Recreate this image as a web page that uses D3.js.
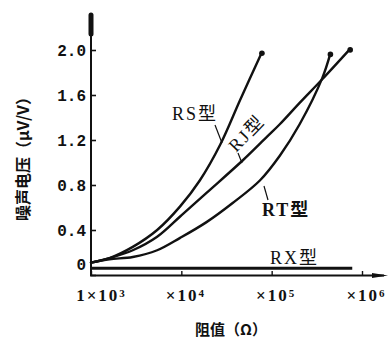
<!DOCTYPE html>
<html>
<head>
<meta charset="utf-8">
<script src="https://cdn.jsdelivr.net/npm/d3@7"></script>
<style>
  body { margin: 0; background: #fff; }
  svg { display: block; }
  text { font-family: "Liberation Serif", "Noto Sans CJK SC", serif; fill: #111; }
</style>
</head>
<body>
<div id="content"></div>
<script>
// resistance (ohm) and noise voltage (uV/V)
const rsR = [1000, 1600, 2900, 5400, 9700, 16000, 27000, 45000, 78000];
const rsV = [0.11, 0.15, 0.25, 0.40, 0.61, 0.84, 1.16, 1.56, 1.98];
const rjR = [1000, 1600, 2900, 5400, 9700, 19000, 48000, 89000, 123000, 204000, 363000, 740000];
const rjV = [0.11, 0.15, 0.22, 0.34, 0.52, 0.73, 1.02, 1.23, 1.34, 1.53, 1.74, 2.01];
const rtR = [1000, 1600, 2900, 5400, 9700, 19000, 37000, 74000, 123000, 204000, 363000, 447000];
const rtV = [0.11, 0.14, 0.16, 0.22, 0.33, 0.47, 0.64, 0.84, 1.06, 1.34, 1.75, 1.97];
const rxR = [1000, 780000];
const rxV = [0.06, 0.06];

const yTicks = [0, 0.4, 0.8, 1.2, 1.6, 2.0];
const xTicks = [1e3, 1e4, 1e5, 1e6];
const xTickPrefix = ["1×10", "×10", "×10", "×10"];
const xTickExp = ["3", "4", "5", "6"];
const yTitle = "噪声电压（μV/V）";
const xTitle = "阻值（Ω）";

const W = 391, H = 341;
const svg = d3.select("#content").append("svg")
  .attr("width", W).attr("height", H);

const x = d3.scaleLog().domain([1e3, 1e6]).range([91, 362]);
const y = d3.scaleLinear().domain([0, 2]).range([275, 50]);

// y axis
const yAxis = d3.axisLeft(y).tickValues(yTicks)
  .tickSizeInner(-5).tickSizeOuter(0).tickPadding(5)
  .tickFormat(d => d === 0 ? "0" : d3.format(".1f")(d));
const gy = svg.append("g").attr("transform", "translate(91,0)").call(yAxis);
gy.select(".domain").remove();
gy.selectAll(".tick line").attr("stroke", "#111").attr("stroke-width", 1.6);
gy.selectAll(".tick text")
  .style("font-family", "'Liberation Mono', monospace")
  .style("font-size", "16px").style("font-weight", "bold")
  .attr("dy", d => d === 0 ? "-0.35em" : "0.35em");

svg.append("line").attr("x1", 91).attr("x2", 91).attr("y1", 276).attr("y2", 14)
  .attr("stroke", "#111").attr("stroke-width", 2);
svg.append("line").attr("x1", 91).attr("x2", 91).attr("y1", 15).attr("y2", 34)
  .attr("stroke", "#111").attr("stroke-width", 5).attr("stroke-linecap", "round");

// x axis
const xAxis = d3.axisBottom(x).tickValues(xTicks)
  .tickSizeInner(-4).tickSizeOuter(0).tickPadding(12).tickFormat("");
const gx = svg.append("g").attr("transform", "translate(0,275)").call(xAxis);
gx.select(".domain").remove();
gx.selectAll(".tick line").attr("stroke", "#111").attr("stroke-width", 1.4);
gx.selectAll(".tick text")
  .attr("dx", (d, i) => i === 0 ? 10 : 4).attr("dy", "0.85em")
  .style("font-size", "17px").style("font-weight", "bold").style("letter-spacing", "2px")
  .each(function(d, i) {
    const t = d3.select(this);
    t.append("tspan").text(xTickPrefix[i]);
    t.append("tspan").attr("dy", "-0.45em").style("font-size", "11px").text(xTickExp[i]);
  });

svg.append("line").attr("x1", 90).attr("x2", 384).attr("y1", 275.5).attr("y2", 275.5)
  .attr("stroke", "#111").attr("stroke-width", 2);
svg.append("path").attr("d", "M372,273 L388,275.5 L372,278 Z").attr("fill", "#111");

// curves
const line = d3.line().x(d => x(d[0])).y(d => y(d[1])).curve(d3.curveCatmullRom.alpha(0.5));
const series = [[rsR, rsV], [rjR, rjV], [rtR, rtV]];
series.forEach(([rs, vs]) => {
  const pts = rs.map((r, i) => [r, vs[i]]);
  svg.append("path").datum(pts).attr("d", line)
    .attr("fill", "none").attr("stroke", "#111").attr("stroke-width", 2.4)
    .attr("stroke-linecap", "round");
  const last = pts[pts.length - 1];
  svg.append("circle").attr("cx", x(last[0])).attr("cy", y(last[1]) + 1).attr("r", 2.8).attr("fill", "#111");
});
svg.append("path").datum(rxR.map((r, i) => [r, rxV[i]])).attr("d", d3.line().x(d => x(d[0])).y(d => y(d[1])))
  .attr("stroke", "#111").attr("stroke-width", 3).attr("fill", "none");

// series labels with leader lines
const lab = svg.append("g").style("font-size", "18px").style("letter-spacing", "2px");
lab.append("text").attr("x", 172).attr("y", 120).text("RS型");
svg.append("line").attr("x1", 215).attr("y1", 125).attr("x2", 222).attr("y2", 143).attr("stroke", "#111").attr("stroke-width", 1.2);
lab.append("text").attr("transform", "translate(236,153) rotate(-46)").text("RJ型");
svg.append("line").attr("x1", 238).attr("y1", 153).attr("x2", 242).attr("y2", 163).attr("stroke", "#111").attr("stroke-width", 1.2);
lab.append("text").attr("x", 262).attr("y", 216).style("font-weight", "bold").text("RT型");
svg.append("line").attr("x1", 264).attr("y1", 186).attr("x2", 268).attr("y2", 200).attr("stroke", "#111").attr("stroke-width", 1.2);
lab.append("text").attr("x", 270).attr("y", 264).text("RX型");

// titles
svg.append("text").attr("transform", "translate(29,155) rotate(-90)")
  .attr("text-anchor", "middle").style("font-size", "16px").style("font-weight", "bold")
  .style("font-family", "'Noto Sans CJK SC', sans-serif").text(yTitle);
svg.append("text").attr("x", 231).attr("y", 335)
  .attr("text-anchor", "middle").style("font-size", "15px").style("font-weight", "bold")
  .style("font-family", "'Noto Sans CJK SC', sans-serif").text(xTitle);
</script>
</body>
</html>
